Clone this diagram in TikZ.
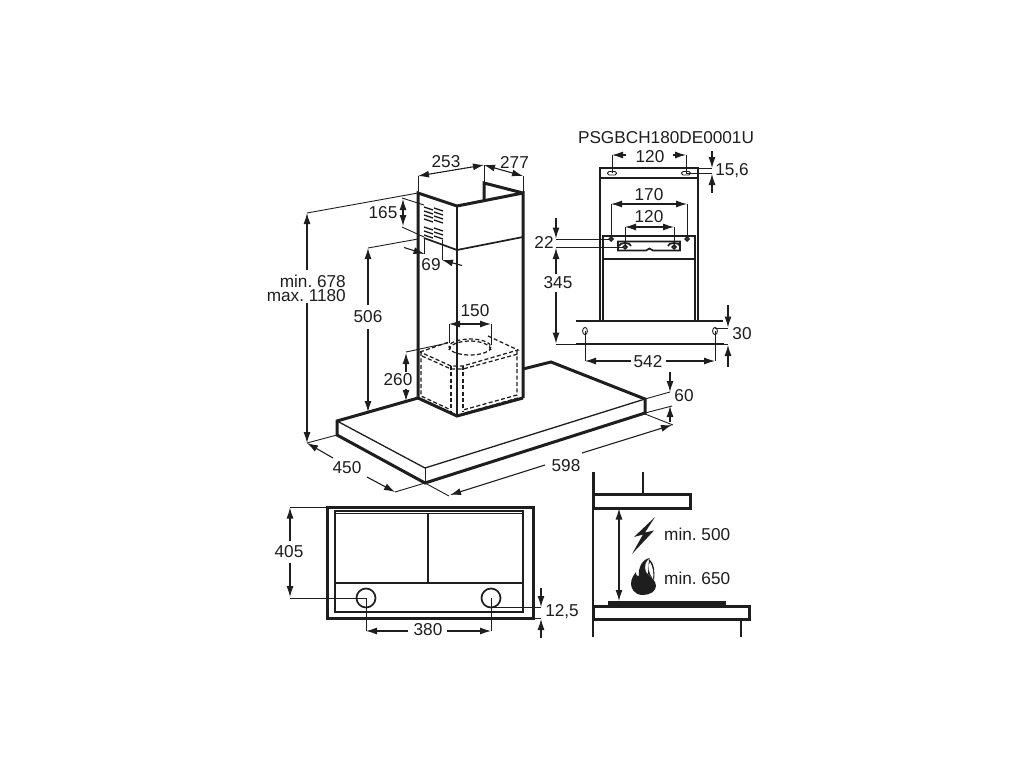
\documentclass[tikz,border=0pt]{standalone}
\usepackage{fontspec}
\setmainfont{Liberation Sans}
\usetikzlibrary{arrows.meta}
\definecolor{ink}{HTML}{1E1E1E}
\tikzset{
  thickln/.style={draw=ink,line width=3pt,line join=miter},
  medln/.style={draw=ink,line width=1.7pt},
  thinln/.style={draw=ink,line width=0.9pt},
  dashln/.style={draw=ink,line width=1.25pt,dash pattern=on 4pt off 2.4pt},
  dimone/.style={draw=ink,line width=1.1pt,-{Latex[length=11pt,width=7pt]}},
  dimtwo/.style={draw=ink,line width=1.1pt,{Latex[length=11pt,width=7pt]}-{Latex[length=11pt,width=7pt]}},
  lab/.style={text=ink,font=\fontsize{17.2}{14}\selectfont,inner sep=0pt,anchor=center},
}
\frenchspacing
\begin{document}
\begin{tikzpicture}[x=1pt,y=-1pt]
\useasboundingbox (0,0) rectangle (1024,768);
\fill[white] (0,0) rectangle (1024,768);
% ---- hood body
\draw[thickln] (418,398) -- (337,421) -- (337,435) -- (425,483) -- (645,413) -- (645,399) -- (551,362) -- (523,369);
\draw[medln,line width=1.3pt] (337,421) -- (425,468) -- (645,399);
\draw[thinln] (425,468) -- (425,483);
% ---- chimney
\draw[thickln] (418,398) -- (418,193) -- (457,206) -- (523,193) -- (523,398);
\draw[thickln] (484,200) -- (484,183) -- (523,193);
\draw[thickln] (418,398) -- (457,416) -- (523,398);
\draw[medln] (457,206) -- (457,416);
\draw[medln] (424,238) -- (457,250) -- (523,237);
% vent slats
\foreach \yy in {207,211,215,219,227,231,235}{
  \draw[medln,line width=1.3pt] (424,\yy) -- (433,\yy+3);
  \draw[medln,line width=1.3pt] (434,\yy+1) -- (443,\yy+4);
}
% ---- dashed box
\draw[dashln] (420,352) -- (449,342);
\draw[dashln] (488,336) -- (518,350) -- (463,366) -- (451,366) -- (420,352);
\draw[dashln] (422,356) -- (451,369) -- (463,369) -- (518,354);
\draw[dashln] (421,352) -- (421,396) -- (451,410);
\draw[dashln] (517,350) -- (517,395) -- (463,410);
\draw[dashln] (451,366) -- (451,412);
\draw[dashln] (463,366) -- (463,412);
\draw[dashln] (421,400) -- (450,413);
\draw[dashln] (465,413) -- (518,398);
\draw[dashln] (470,347) ellipse (21 and 8);
\draw[dashln] (449,350) arc[start angle=180,end angle=360,x radius=21,y radius=9];
% ---- dim 253 / 277
\draw[thinln] (418,193) -- (418,176);
\draw[thinln] (484,183) -- (484,165);
\draw[thinln] (523,193) -- (523,176);
\draw[dimtwo] (418,176) -- (484,165);
\draw[dimtwo] (484,165) -- (523,176);
\node[lab] (d253) at (446,162) {253};
\node[lab] (d277) at (514.5,162) {277};
% dim 165
\draw[thinln] (402,198) -- (424,205);
\draw[thinln] (402,227) -- (424,237);
\draw[dimtwo] (403,199) -- (403,226);
\node[lab] (d165) at (383,213) {165};
% dim min/max
\draw[thinln] (307,213) -- (418,193);
\draw[dimone] (307,270) -- (307,213);
\draw[dimone] (307,303) -- (307,443);
\node[lab,align=right,anchor=east] (dminmax) at (346,288) {min. 678\\max. 1180};
% dim 506
\draw[thinln] (368,248) -- (418,239);
\draw[dimone] (368,305) -- (368,248);
\draw[dimone] (368,329) -- (368,412);
\node[lab] (d506) at (368,317) {506};
% dim 69
\draw[thinln] (424.5,238) -- (424.5,254);
\draw[thinln] (442,240) -- (442,260);
\draw[dimone] (404,247.5) -- (424.5,254);
\draw[dimone] (462,265.5) -- (442,260);
\node[lab] (d69) at (431,265) {69};
% dim 150
\draw[thinln] (449,324) -- (449,343);
\draw[thinln] (491,324) -- (491,345);
\draw[dimtwo] (449,324) -- (491,324);
\node[lab] (d150) at (475,311) {150};
% dim 260
\draw[thinln] (406,352) -- (448,343);
\draw[dimone] (406,372) -- (406,353);
\draw[dimone] (406,389) -- (406,401);
\node[lab] (d260) at (398,380) {260};
% dim 60
\draw[thinln] (645,399) -- (670,392);
\draw[thinln] (645,413) -- (672,406);
\draw[dimone] (670,372) -- (670,392);
\draw[dimone] (670,422) -- (670,406);
\node[lab] (d60) at (684,396) {60};
% dim 598
\draw[thinln] (645,414) -- (673,425);
\draw[thinln] (425,483) -- (449,496);
\draw[dimone] (582,453) -- (672,425);
\draw[dimone] (545,465) -- (450,495);
\node[lab] (d598) at (566,466) {598};
% dim 450
\draw[thinln] (337,435) -- (307,443);
\draw[thinln] (425,483) -- (395,492);
\draw[dimone] (333,458) -- (307,443);
\draw[dimone] (367,477) -- (395,492);
\node[lab] (d450) at (347,468) {450};
% ---- rear view
\node[lab] (psg) at (666,138) {PSGBCH180DE0001U};
\draw[medln] (600,321) -- (600,168) -- (698,168) -- (698,321);
\draw[medln] (600,178) -- (698,178);
\draw[medln] (603,321) -- (603,236) -- (695,236) -- (695,321);
\draw[medln] (603,259) -- (695,259);
\draw[medln] (576,321) -- (723,321);
\draw[medln] (576,344) -- (724,344);
\draw[thinln] (556,344) -- (576,344);
\draw[thinln] (724,344) -- (728,344);
% slots
\draw[thinln,rounded corners=1.5pt] (607.5,171.5) rectangle (616.5,175);
\draw[thinln,rounded corners=1.5pt] (681.5,171.5) rectangle (690.5,175);
% bracket
\draw[medln] (618,250.5) -- (618,241.5) -- (680,241.5) -- (680,250.5) -- (653,250.5) -- (649.5,248.5) -- (646,250.5) -- cycle;
\draw[medln] (619,246) .. controls (619,242) and (631,242) .. (631,246);
\draw[medln] (668,246) .. controls (668,242) and (680,242) .. (680,246);
\draw[medln] (611,239) circle (1.8);
\draw[medln] (687,239) circle (1.8);
\draw[medln] (625,247) circle (1.8);
\draw[medln] (674,247) circle (1.8);
% keyholes
\draw[thinln] (585,331) ellipse (2.4 and 3.6);
\draw[thinln] (715,331) ellipse (2.4 and 3.6);
% dim 120 top
\draw[thinln] (612,155) -- (612,173);
\draw[thinln] (686,155) -- (686,173);
\draw[dimone] (626,155) -- (612,155);
\draw[dimone] (673,155) -- (686,155);
\node[lab] (d120a) at (650,157) {120};
% dim 15,6
\draw[thinln] (698,168) -- (712,168);
\draw[thinln] (686,173.5) -- (712,173.5);
\draw[dimone] (712,151) -- (712,168);
\draw[dimone] (712,193) -- (712,174);
\node[lab] (d156) at (732,171) {15,6};
% dim 170
\draw[thinln] (611,204) -- (611,238);
\draw[thinln] (687,204) -- (687,238);
\draw[dimtwo] (611,204) -- (687,204);
\node[lab] (d170) at (649,195) {170};
% dim 120 inner
\draw[thinln] (625,227) -- (625,247);
\draw[thinln] (674,227) -- (674,247);
\draw[dimtwo] (625,227) -- (674,227);
\node[lab] (d120b) at (649,217) {120};
% dim 22
\draw[thinln] (556,239) -- (609,239);
\draw[thinln] (556,247) -- (623,247);
\draw[dimone] (556,218) -- (556,238.5);
\draw[dimone] (556,274) -- (556,248);
\node[lab] (d22) at (544,242) {22};
% dim 345
\node[lab] (d345) at (558,283) {345};
\draw[dimone] (556,292) -- (556,343.5);
% dim 30
\draw[thinln] (715,328) -- (728,328);
\draw[dimone] (728,305) -- (728,327.5);
\draw[dimone] (728,367) -- (728,345);
\node[lab] (d30) at (742,334) {30};
% dim 542
\draw[thinln] (585,331) -- (585,361);
\draw[thinln] (715,331) -- (715,361);
\draw[dimone] (631,361) -- (585,361);
\draw[dimone] (666,361) -- (715,361);
\node[lab] (d542) at (648,362) {542};
% ---- underside view
\draw[thickln] (327,507) rectangle (533,618);
\draw[medln] (335,511) rectangle (523,612);
\draw[medln] (335,513.5) -- (523,513.5);
\draw[medln] (335,583) -- (523,583);
\draw[medln] (428,513.5) -- (428,583);
\draw[medln] (366,598) circle (9.5);
\draw[medln] (491,598) circle (9.5);
% dim 405
\draw[thinln] (290,507) -- (327,507);
\draw[thinln] (290,598) -- (366,598);
\draw[dimone] (290,541) -- (290,507.5);
\draw[dimone] (290,563) -- (290,597);
\node[lab] (d405) at (289,552) {405};
% dim 380
\draw[thinln] (366,598) -- (366,631);
\draw[thinln] (491,598) -- (491,631);
\draw[dimone] (408,631) -- (366,631);
\draw[dimone] (447,631) -- (491,631);
\node[lab] (d380) at (428,630) {380};
% dim 12,5
\draw[thinln] (491,607) -- (541,607);
\draw[thinln] (533,618) -- (541,618);
\draw[dimone] (541,588) -- (541,607);
\draw[dimone] (541,638) -- (541,619);
\node[lab] (d125) at (562,612) {12,5};
% ---- clearance view
\draw[thickln] (593,472) -- (593,494);
\draw[medln,line width=2pt] (643,472) -- (643,494);
\draw[thickln] (593,494) rectangle (690,508);
\draw[thinln,line width=1.1pt] (593,508) -- (593,606);
\draw[thickln] (593,606) rectangle (749,619);
\fill[ink] (608,601) rectangle (726,606);
\draw[thinln,line width=1.1pt] (593,619) -- (593,637);
\draw[thinln,line width=1.1pt] (741,619) -- (741,637);
\draw[dimtwo] (619,508.5) -- (619,601);
% lightning
\fill[ink] (655,517) -- (634,537) -- (643,534.5) -- (632,554) -- (654,530.5) -- (645,532.5) -- cycle;
% flame
\fill[ink] (643,595) .. controls (634,595) and (631,588) .. (631,584)
  .. controls (631,578) and (634,575) .. (636,572)
  .. controls (636,575) and (637,577) .. (639,576)
  .. controls (638,568) and (642,559) .. (650,558)
  .. controls (645,561) and (644,567) .. (646,572)
  .. controls (650,577) and (656,580) .. (656,586)
  .. controls (656,591) and (650,595) .. (643,595) -- cycle;
\fill[ink] (649,559) .. controls (654,562) and (655,572) .. (654,580) -- (648,574) -- cycle;
\fill[white] (650,562) .. controls (647,567) and (649,573) .. (653,579)
  .. controls (654,574) and (653,567) .. (650,562) -- cycle;
\node[lab,anchor=west] (dm500) at (664,534) {min. 500};
\node[lab,anchor=west] (dm650) at (664,578) {min. 650};
\end{tikzpicture}
\end{document}
